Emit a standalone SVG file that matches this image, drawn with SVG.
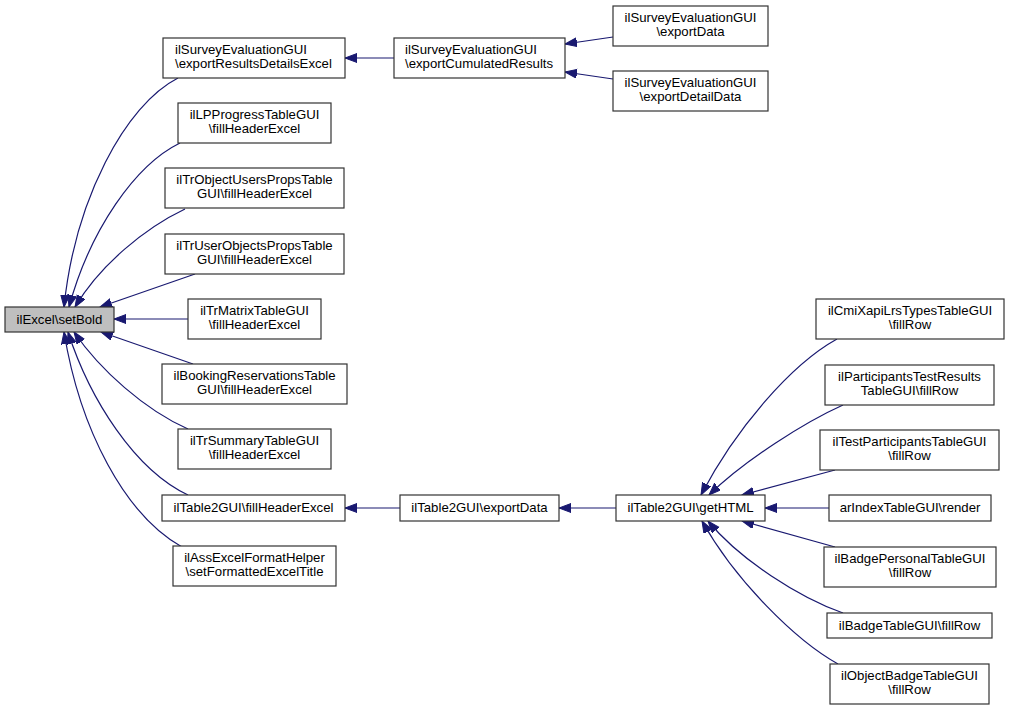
<svg xmlns="http://www.w3.org/2000/svg" width="1009" height="711" viewBox="0 0 1009 711">
<style>
.n rect{fill:#ffffff;stroke:#333333;stroke-width:1.2}
.n text{font-family:"Liberation Sans",Arial,Helvetica,sans-serif;font-size:13.2px;fill:#000000;text-anchor:middle}
.n text.l{text-anchor:start}
#n_setBold rect{fill:#bfbfbf}
.e path{fill:none;stroke:#191970;stroke-width:1.2;marker-end:url(#ah)}
</style>
<defs>
<marker id="ah" markerUnits="userSpaceOnUse" markerWidth="14" markerHeight="10" refX="12" refY="4.5" orient="auto" viewBox="0 0 14 10">
<path d="M0,0 L12,4.5 L0,9 z" fill="#191970" stroke="#191970" stroke-width="1"/>
</marker>
</defs>
<rect width="1009" height="711" fill="#ffffff"/>
<g class="e" id="edges">
<path d="M178,78 C125,105 75,200 64,307"/>
<path d="M180,143 C135,165 90,230 69,307"/>
<path d="M185,209 C145,228 100,265 75,307"/>
<path d="M195,274 L100,307"/>
<path d="M188,319 L114,319"/>
<path d="M193,364 L101,332"/>
<path d="M188,429 C145,410 100,370 74,332"/>
<path d="M188,495 C135,470 90,400 68,332"/>
<path d="M182,547 C125,515 80,430 64,332"/>
<path d="M394,58 L345,58"/>
<path d="M613,37 L565,44"/>
<path d="M613,79 L565,72"/>
<path d="M400,508 L345,508"/>
<path d="M616,508 L559,508"/>
<path d="M837,339 C790,365 735,430 701,495"/>
<path d="M843,405 C805,422 745,460 709,495"/>
<path d="M835,470 L742,495"/>
<path d="M829,508 L765,508"/>
<path d="M835,547 L742,521"/>
<path d="M843,613 C800,598 740,560 708,521"/>
<path d="M838,664 C795,640 735,580 702,521"/>
</g>
<g class="n" id="n_setBold"><rect x="5" y="307" width="109" height="25"/><text x="59.5" y="324">ilExcel\setBold</text></g>
<g class="n" id="n_exportResultsDetailsExcel"><rect x="163" y="38" width="182" height="40"/><text class="l" x="175" y="54">ilSurveyEvaluationGUI</text><text class="l" x="175" y="68">\exportResultsDetailsExcel</text></g>
<g class="n" id="n_lpprogress"><rect x="178" y="103" width="153" height="40"/><text x="254.5" y="119">ilLPProgressTableGUI</text><text x="254.5" y="133">\fillHeaderExcel</text></g>
<g class="n" id="n_trobjectusers"><rect x="165" y="168" width="179" height="40"/><text x="254.5" y="184">ilTrObjectUsersPropsTable</text><text x="254.5" y="198">GUI\fillHeaderExcel</text></g>
<g class="n" id="n_truserobjects"><rect x="165" y="234" width="179" height="40"/><text x="254.5" y="250">ilTrUserObjectsPropsTable</text><text x="254.5" y="264">GUI\fillHeaderExcel</text></g>
<g class="n" id="n_trmatrix"><rect x="188" y="299" width="133" height="40"/><text x="254.5" y="315">ilTrMatrixTableGUI</text><text x="254.5" y="329">\fillHeaderExcel</text></g>
<g class="n" id="n_booking"><rect x="162" y="364" width="185" height="40"/><text x="254.5" y="380">ilBookingReservationsTable</text><text x="254.5" y="394">GUI\fillHeaderExcel</text></g>
<g class="n" id="n_trsummary"><rect x="178" y="429" width="153" height="40"/><text x="254.5" y="445">ilTrSummaryTableGUI</text><text x="254.5" y="459">\fillHeaderExcel</text></g>
<g class="n" id="n_t2fillHeader"><rect x="162" y="495" width="183" height="26"/><text x="253.5" y="512">ilTable2GUI\fillHeaderExcel</text></g>
<g class="n" id="n_assexcel"><rect x="173" y="546" width="163" height="40"/><text x="254.5" y="562">ilAssExcelFormatHelper</text><text x="254.5" y="576">\setFormattedExcelTitle</text></g>
<g class="n" id="n_exportCumulated"><rect x="394" y="38" width="171" height="40"/><text class="l" x="405" y="54">ilSurveyEvaluationGUI</text><text class="l" x="405" y="68">\exportCumulatedResults</text></g>
<g class="n" id="n_surveyExportData"><rect x="613" y="6" width="155" height="40"/><text x="690.5" y="22">ilSurveyEvaluationGUI</text><text x="690.5" y="36">\exportData</text></g>
<g class="n" id="n_surveyExportDetail"><rect x="613" y="71" width="155" height="40"/><text x="690.5" y="87">ilSurveyEvaluationGUI</text><text x="690.5" y="101">\exportDetailData</text></g>
<g class="n" id="n_t2exportData"><rect x="400" y="495" width="159" height="26"/><text x="479.5" y="512">ilTable2GUI\exportData</text></g>
<g class="n" id="n_getHTML"><rect x="616" y="495" width="149" height="26"/><text x="690.5" y="512">ilTable2GUI\getHTML</text></g>
<g class="n" id="n_cmixapi"><rect x="816" y="299" width="188" height="40"/><text x="910" y="315">ilCmiXapiLrsTypesTableGUI</text><text x="910" y="329">\fillRow</text></g>
<g class="n" id="n_partTestResults"><rect x="825" y="365" width="169" height="40"/><text x="909.5" y="381">ilParticipantsTestResults</text><text x="909.5" y="395">TableGUI\fillRow</text></g>
<g class="n" id="n_testParticipants"><rect x="820" y="430" width="179" height="40"/><text x="909.5" y="446">ilTestParticipantsTableGUI</text><text x="909.5" y="460">\fillRow</text></g>
<g class="n" id="n_arIndex"><rect x="829" y="495" width="162" height="26"/><text x="910" y="512">arIndexTableGUI\render</text></g>
<g class="n" id="n_badgePersonal"><rect x="824" y="547" width="172" height="40"/><text x="910" y="563">ilBadgePersonalTableGUI</text><text x="910" y="577">\fillRow</text></g>
<g class="n" id="n_badgeTable"><rect x="827" y="613" width="165" height="25"/><text x="909.5" y="630">ilBadgeTableGUI\fillRow</text></g>
<g class="n" id="n_objectBadge"><rect x="830" y="664" width="159" height="40"/><text x="909.5" y="680">ilObjectBadgeTableGUI</text><text x="909.5" y="694">\fillRow</text></g>
</svg>
